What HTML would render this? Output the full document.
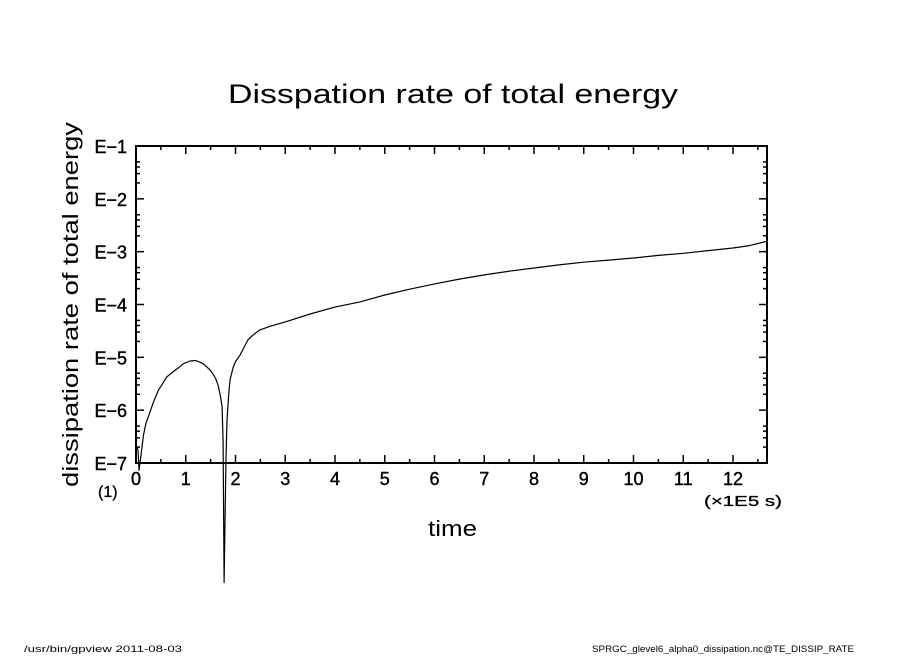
<!DOCTYPE html>
<html><head><meta charset="utf-8"><style>
body{margin:0;background:#fff;}
svg text{font-family:"Liberation Sans",sans-serif;fill:#000;}
</style></head><body>
<svg id="chart" width="904" height="654" viewBox="0 0 904 654" xmlns="http://www.w3.org/2000/svg">
<text x="228" y="103" font-size="27" textLength="450" lengthAdjust="spacingAndGlyphs">Disspation rate of total energy</text>
<text transform="translate(78,487) rotate(-90)" font-size="22" textLength="365" lengthAdjust="spacingAndGlyphs">dissipation rate of total energy</text>
<text x="428" y="536" font-size="22" textLength="49" lengthAdjust="spacingAndGlyphs">time</text>
<text x="704" y="506" font-size="15" textLength="78" lengthAdjust="spacingAndGlyphs" stroke="#000" stroke-width="0.3">(×1E5 s)</text>
<text x="98" y="497" font-size="16" stroke="#000" stroke-width="0.3">(1)</text>
<text x="24" y="652" font-size="9" textLength="158" lengthAdjust="spacingAndGlyphs">/usr/bin/gpview   2011-08-03</text>
<text x="592" y="652" font-size="9" textLength="262" lengthAdjust="spacingAndGlyphs">SPRGC_glevel6_alpha0_dissipation.nc@TE_DISSIP_RATE</text>
<g id="axes"></g>
<path id="series" fill="none" stroke="#000" stroke-width="1.2" stroke-linejoin="round"/>
<rect x="136" y="146" width="631" height="317" fill="none" stroke="#000" stroke-width="2"/>
</svg>
<script>
const xValues=[0,0.02,0.04,0.06,0.1,0.15,0.2,0.28,0.35,0.45,0.5,0.62,0.75,0.85,0.95,1.09,1.2,1.3,1.35,1.49,1.55,1.6,1.62,1.65,1.7,1.73,1.75,1.77,1.79,1.81,1.83,1.86,1.89,1.95,2.0,2.09,2.15,2.25,2.35,2.49,2.7,3,3.5,4,4.5,5,5.5,6,6.5,7,7.5,8,8.5,9,9.5,10,10.5,11,11.5,12,12.3,12.7];
const logValues=[-6.8,-6.7,-6.75,-7.14,-6.85,-6.47,-6.25,-6.04,-5.85,-5.62,-5.55,-5.37,-5.27,-5.2,-5.12,-5.07,-5.06,-5.1,-5.12,-5.24,-5.32,-5.4,-5.45,-5.53,-5.75,-5.94,-6.6,-9.26,-8.0,-6.9,-6.2,-5.75,-5.43,-5.2,-5.08,-4.96,-4.85,-4.67,-4.58,-4.48,-4.41,-4.33,-4.18,-4.05,-3.95,-3.82,-3.71,-3.61,-3.52,-3.44,-3.37,-3.31,-3.25,-3.2,-3.16,-3.12,-3.07,-3.03,-2.98,-2.93,-2.89,-2.8];
const xTickLabels=["0","1","2","3","4","5","6","7","8","9","10","11","12"];
const yTickLabels=["E−1","E−2","E−3","E−4","E−5","E−6","E−7"];
const yDecades=[-1,-2,-3,-4,-5,-6,-7];
const X0=136,X1=767,Y0=146,Y1=463;
function sx(v){return X0+v*49.75;}
function sy(v){return Y0+(-1-v)*(Y1-Y0)/6;}
const NS="http://www.w3.org/2000/svg";
const g=document.getElementById('axes');
function line(x1,y1,x2,y2,name,w){const l=document.createElementNS(NS,'line');l.setAttribute('x1',x1);l.setAttribute('y1',y1);l.setAttribute('x2',x2);l.setAttribute('y2',y2);l.setAttribute('stroke','#000');l.setAttribute('stroke-width',w||1.5);


g.appendChild(l);}
function text(x,y,s,anchor,name){const t=document.createElementNS(NS,'text');t.setAttribute('x',x);t.setAttribute('y',y);t.setAttribute('font-size','18');t.setAttribute('text-anchor',anchor);t.setAttribute('stroke','#000');t.setAttribute('stroke-width','0.4');t.textContent=s;


g.appendChild(t);}
xTickLabels.forEach((lab,i)=>{const x=sx(i);line(x,Y1,x,Y1-8,'x-tick');line(x,Y0,x,Y0+8,'x-tick');text(x,485,lab,'middle','x-tick-label');
const h=sx(i+0.5);if(h<X1){line(h,Y1,h,Y1-4,'x-minor-tick');line(h,Y0,h,Y0+4,'x-minor-tick');}});
yDecades.forEach((d,i)=>{const y=sy(d);line(X0,y,X0+8,y,'y-tick');line(X1,y,X1-8,y,'y-tick');text(127,y+7,yTickLabels[i],'end','y-tick-label');
if(d>-7){[2,3,4,5].forEach(k=>{const yy=sy(d-1+Math.log10(k));line(X0,yy,X0+4,yy,'y-minor-tick');line(X1,yy,X1-4,yy,'y-minor-tick');});}});
let dStr='';xValues.forEach((x,i)=>{dStr+=(i?'L':'M')+sx(x).toFixed(1)+','+sy(logValues[i]).toFixed(1);});
document.getElementById('series').setAttribute('d',dStr);
</script>
</body></html>
